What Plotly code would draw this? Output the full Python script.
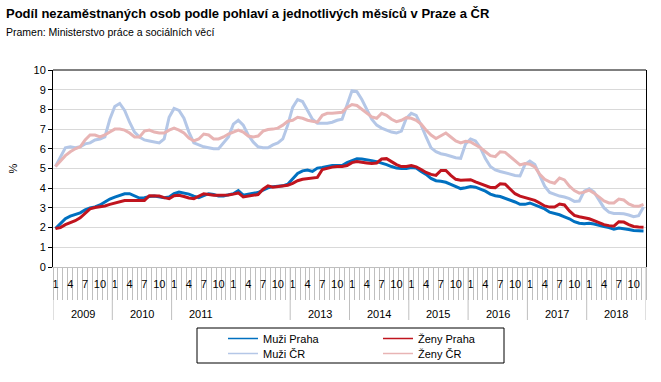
import plotly.graph_objects as go

# ---------------- data ----------------
years = [2009, 2010, 2011, 2012, 2013, 2014, 2015, 2016, 2017, 2018]
year_labels = ["2009", "2010", "2011", "", "2013", "2014", "2015", "2016", "2017", "2018"]
years_without_separator = [2012]
months = [1, 2, 3, 4, 5, 6, 7, 8, 9, 10, 11, 12]
labeled_months = [1, 4, 7, 10]

muzi_praha = [
    1.95, 2.2, 2.45, 2.58, 2.65, 2.75, 2.9, 3.0, 3.05, 3.15, 3.3, 3.45,
    3.55, 3.65, 3.72, 3.72, 3.62, 3.5, 3.52, 3.58, 3.6, 3.55, 3.52, 3.55,
    3.72, 3.8, 3.75, 3.7, 3.6, 3.52, 3.62, 3.72, 3.68, 3.6, 3.6, 3.65,
    3.72, 3.88, 3.65, 3.7, 3.75, 3.78, 3.9, 4.02, 4.08, 4.1, 4.12, 4.2,
    4.45, 4.75, 4.88, 4.92, 4.85, 5.02, 5.05, 5.1, 5.15, 5.15, 5.15, 5.3,
    5.42, 5.5, 5.48, 5.45, 5.4, 5.35, 5.28, 5.2, 5.1, 5.02, 5.0, 5.0,
    5.05, 5.02, 4.85, 4.7, 4.5, 4.38, 4.35, 4.3, 4.2, 4.08, 3.98, 4.02,
    4.08, 4.05, 3.95, 3.85, 3.7, 3.62, 3.58, 3.5, 3.42, 3.3, 3.18, 3.18,
    3.25, 3.15, 3.05, 2.95, 2.78, 2.72, 2.65, 2.55, 2.45, 2.3, 2.22, 2.2,
    2.22, 2.18, 2.1, 2.05, 2.0, 1.92, 1.98, 1.95, 1.9, 1.85, 1.84, 1.83,
]
zeny_praha = [
    1.95, 2.0, 2.15, 2.25, 2.35, 2.5, 2.75, 2.95, 3.02, 3.05, 3.1, 3.18,
    3.25, 3.33, 3.37, 3.38, 3.38, 3.38, 3.38, 3.62, 3.62, 3.6, 3.52, 3.47,
    3.62, 3.64, 3.58, 3.5, 3.47, 3.58, 3.72, 3.68, 3.64, 3.64, 3.64, 3.66,
    3.7, 3.76, 3.56, 3.6, 3.64, 3.68, 3.95, 4.12, 4.05, 4.08, 4.1, 4.15,
    4.25, 4.38, 4.45, 4.48, 4.5, 4.55, 4.95, 5.02, 5.07, 5.1, 5.1, 5.15,
    5.3, 5.35, 5.3, 5.28, 5.25, 5.28, 5.48, 5.5, 5.35, 5.2, 5.1, 5.1,
    5.15, 5.08, 4.95, 4.8, 4.7, 4.65, 4.9, 4.9, 4.65, 4.45, 4.4, 4.42,
    4.43, 4.32, 4.22, 4.12, 4.04, 4.03, 4.22, 4.2, 3.95, 3.72, 3.6, 3.52,
    3.45, 3.38, 3.25, 3.1, 3.04, 3.05, 3.2, 3.15, 2.85, 2.62, 2.55, 2.5,
    2.45, 2.35, 2.25, 2.15, 2.1, 2.07, 2.3, 2.28, 2.15, 2.06, 2.03, 2.02,
]
muzi_cr = [
    5.1, 5.6, 6.05, 6.1, 6.05, 6.1, 6.25, 6.3, 6.45, 6.5, 6.6, 7.5,
    8.15, 8.3, 7.95, 7.35, 6.85, 6.6, 6.45, 6.4, 6.35, 6.3, 6.5, 7.6,
    8.05, 7.95, 7.55, 6.85, 6.3, 6.2, 6.1, 6.05, 6.0, 6.0, 6.3, 6.6,
    7.25, 7.45, 7.2, 6.7, 6.35, 6.1, 6.05, 6.05, 6.2, 6.3, 6.5, 7.2,
    8.1, 8.5, 8.4, 7.95, 7.5, 7.3, 7.3, 7.3, 7.35, 7.45, 7.5, 8.2,
    8.95, 8.9, 8.5, 8.0, 7.5, 7.2, 7.05, 6.95, 6.85, 6.8, 6.9, 7.55,
    7.8, 7.7, 7.2, 6.6, 6.05, 5.85, 5.75, 5.7, 5.62, 5.55, 5.52, 6.25,
    6.5, 6.4, 6.05, 5.5, 5.1, 4.93, 4.85, 4.78, 4.72, 4.65, 4.62, 5.2,
    5.38, 5.2, 4.65, 4.1, 3.78, 3.68, 3.6, 3.55, 3.47, 3.33, 3.35, 3.85,
    3.97, 3.8, 3.4, 3.0, 2.78, 2.72, 2.71, 2.7, 2.64, 2.55, 2.6, 3.05,
]
zeny_cr = [
    5.1, 5.4, 5.65, 5.85, 6.0, 6.1, 6.45, 6.7, 6.7, 6.6, 6.7, 6.85,
    7.0, 7.0, 6.95, 6.8, 6.6, 6.6, 6.9, 6.95, 6.85, 6.8, 6.8, 6.95,
    7.05, 6.95, 6.8, 6.55, 6.4, 6.5, 6.75, 6.7, 6.5, 6.5, 6.6, 6.75,
    6.85, 6.95, 6.85, 6.65, 6.6, 6.65, 6.9, 6.98, 7.0, 7.05, 7.2, 7.4,
    7.45, 7.6, 7.55, 7.45, 7.4, 7.35, 7.7, 7.8, 7.8, 7.82, 7.85, 8.1,
    8.25, 8.2, 8.0, 7.8, 7.62, 7.55, 7.8, 7.7, 7.5, 7.38, 7.45, 7.58,
    7.55, 7.45, 7.25, 6.95, 6.7, 6.52, 6.65, 6.8, 6.6, 6.4, 6.3, 6.38,
    6.35, 6.2, 6.05, 5.85, 5.65, 5.6, 5.85, 5.82, 5.6, 5.38, 5.18, 5.25,
    5.22, 5.08, 4.7, 4.45, 4.32, 4.25, 4.52, 4.42, 4.1, 3.88, 3.75, 3.8,
    3.9, 3.75, 3.55, 3.35, 3.25, 3.25, 3.45, 3.4, 3.2, 3.1, 3.08, 3.18,
]

# ---------------- styling ----------------
FONT = "Liberation Sans, Arial, sans-serif"
C_MP = "#0070C0"
C_ZP = "#C0141E"
C_MC = "#B4C7E7"
C_ZC = "#E8B4B4"
GRID = "#d9d9d9"
AXG = "#bfbfbf"

n = len(years) * len(months)
x = list(range(n))

# plot area geometry (px) used for placing things outside the plot area
W, H = 661, 382
ML, MR, MT, MB = 53, 15, 70, 115
PW, PH = W - ML - MR, H - MT - MB


def py(ypix):  # pixel y -> paper y
    return (H - MB - ypix) / PH


def px(xpix):  # pixel x -> paper x
    return (xpix - ML) / PW


fig = go.Figure()

series = [
    ("Muži ČR", muzi_cr, C_MC),
    ("Ženy ČR", zeny_cr, C_ZC),
    ("Muži Praha", muzi_praha, C_MP),
    ("Ženy Praha", zeny_praha, C_ZP),
]
for name, vals, col in series:
    fig.add_trace(go.Scatter(x=x, y=vals, mode="lines", name=name,
                             line=dict(color=col, width=3), showlegend=False,
                             hoverinfo="skip"))

# legend entries (thin lines)
for name, col, lg in [("Muži Praha", C_MP, "legend"), ("Ženy Praha", C_ZP, "legend"),
                      ("Muži ČR", C_MC, "legend2"), ("Ženy ČR", C_ZC, "legend2")]:
    fig.add_trace(go.Scatter(x=[None], y=[None], mode="lines", name=name,
                             line=dict(color=col, width=1.5), legend=lg))

# month tick labels
tickvals, ticktext = [], []
for yi, yr in enumerate(years):
    for mi, m in enumerate(months):
        if m in labeled_months:
            tickvals.append(yi * 12 + mi)
            ticktext.append(str(m))
month_bounds = [i - 0.5 for i in range(n + 1)]

shapes = []
# year separators
for yi, yr in enumerate(years + [years[-1] + 1]):
    if yr in years_without_separator:
        continue
    xb = yi * 12 - 0.5
    shapes.append(dict(type="line", xref="x", yref="paper", x0=xb, x1=xb,
                       y0=0, y1=py(320), line=dict(color=AXG, width=1)))
# top border
shapes.append(dict(type="line", xref="paper", yref="paper", x0=0, x1=1, y0=1, y1=1,
                   line=dict(color="black", width=1)))
# legend box
shapes.append(dict(type="rect", xref="paper", yref="paper",
                   x0=px(197), x1=px(504), y0=py(363), y1=py(328),
                   line=dict(color="black", width=1), fillcolor="rgba(0,0,0,0)"))

annotations = []
for yi, lab in enumerate(year_labels):
    if lab:
        annotations.append(dict(x=yi * 12 + 5.5, y=py(314), xref="x", yref="paper",
                                text=lab, showarrow=False, xanchor="center", yanchor="middle",
                                font=dict(family=FONT, size=11, color="black")))
annotations.append(dict(x=px(4), y=py(32), xref="paper", yref="paper",
                        text="Pramen: Ministerstvo práce a sociálních věcí", showarrow=False,
                        xanchor="left", yanchor="middle",
                        font=dict(family=FONT, size=10.5, color="black")))

fig.update_layout(
    width=W, height=H,
    margin=dict(l=ML, r=MR, t=MT, b=MB, autoexpand=False),
    paper_bgcolor="white", plot_bgcolor="white",
    font=dict(family=FONT, size=11, color="black"),
    title=dict(text="<b>Podíl nezaměstnaných osob podle pohlaví a jednotlivých měsíců v Praze a ČR</b>",
               x=6 / W, xanchor="left", xref="container",
               y=1 - 13 / H, yanchor="middle", yref="container",
               font=dict(family=FONT, size=13, color="black")),
    xaxis=dict(range=[-0.5, n - 0.5], showline=True, linecolor=AXG, linewidth=1,
               showgrid=False, zeroline=False, tickmode="array", tickvals=tickvals,
               ticktext=ticktext, ticks="outside", ticklen=7, tickcolor="rgba(0,0,0,0)",
               tickangle=0, tickfont=dict(family=FONT, size=11, color="black"),
               minor=dict(tickmode="array", tickvals=month_bounds, ticks="outside",
                          ticklen=32, tickcolor=AXG, tickwidth=1, showgrid=False),
               automargin=False, fixedrange=True),
    yaxis=dict(range=[0, 10], tick0=0, dtick=1, showline=True, linecolor="black",
               linewidth=1, mirror=True, showgrid=True, gridcolor=GRID, gridwidth=1,
               zeroline=False, ticks="outside", ticklen=4, tickcolor="black",
               tickfont=dict(family=FONT, size=11, color="black"),
               title=dict(text="%", font=dict(family=FONT, size=11, color="black"), standoff=13),
               automargin=False, fixedrange=True),
    legend=dict(orientation="h", x=px(223), y=py(324), xanchor="left", yanchor="top",
                entrywidth=110, bgcolor="rgba(0,0,0,0)", borderwidth=0,
                font=dict(family=FONT, size=11, color="black"), tracegroupgap=0),
    legend2=dict(orientation="h", x=px(223), y=py(339), xanchor="left", yanchor="top",
                 entrywidth=110, bgcolor="rgba(0,0,0,0)", borderwidth=0,
                 font=dict(family=FONT, size=11, color="black"), tracegroupgap=0),
    shapes=shapes,
    annotations=annotations,
    showlegend=True,
)

fig.write_html("out.html", config={"displayModeBar": False},
               post_script="document.body.style.margin='0';")
